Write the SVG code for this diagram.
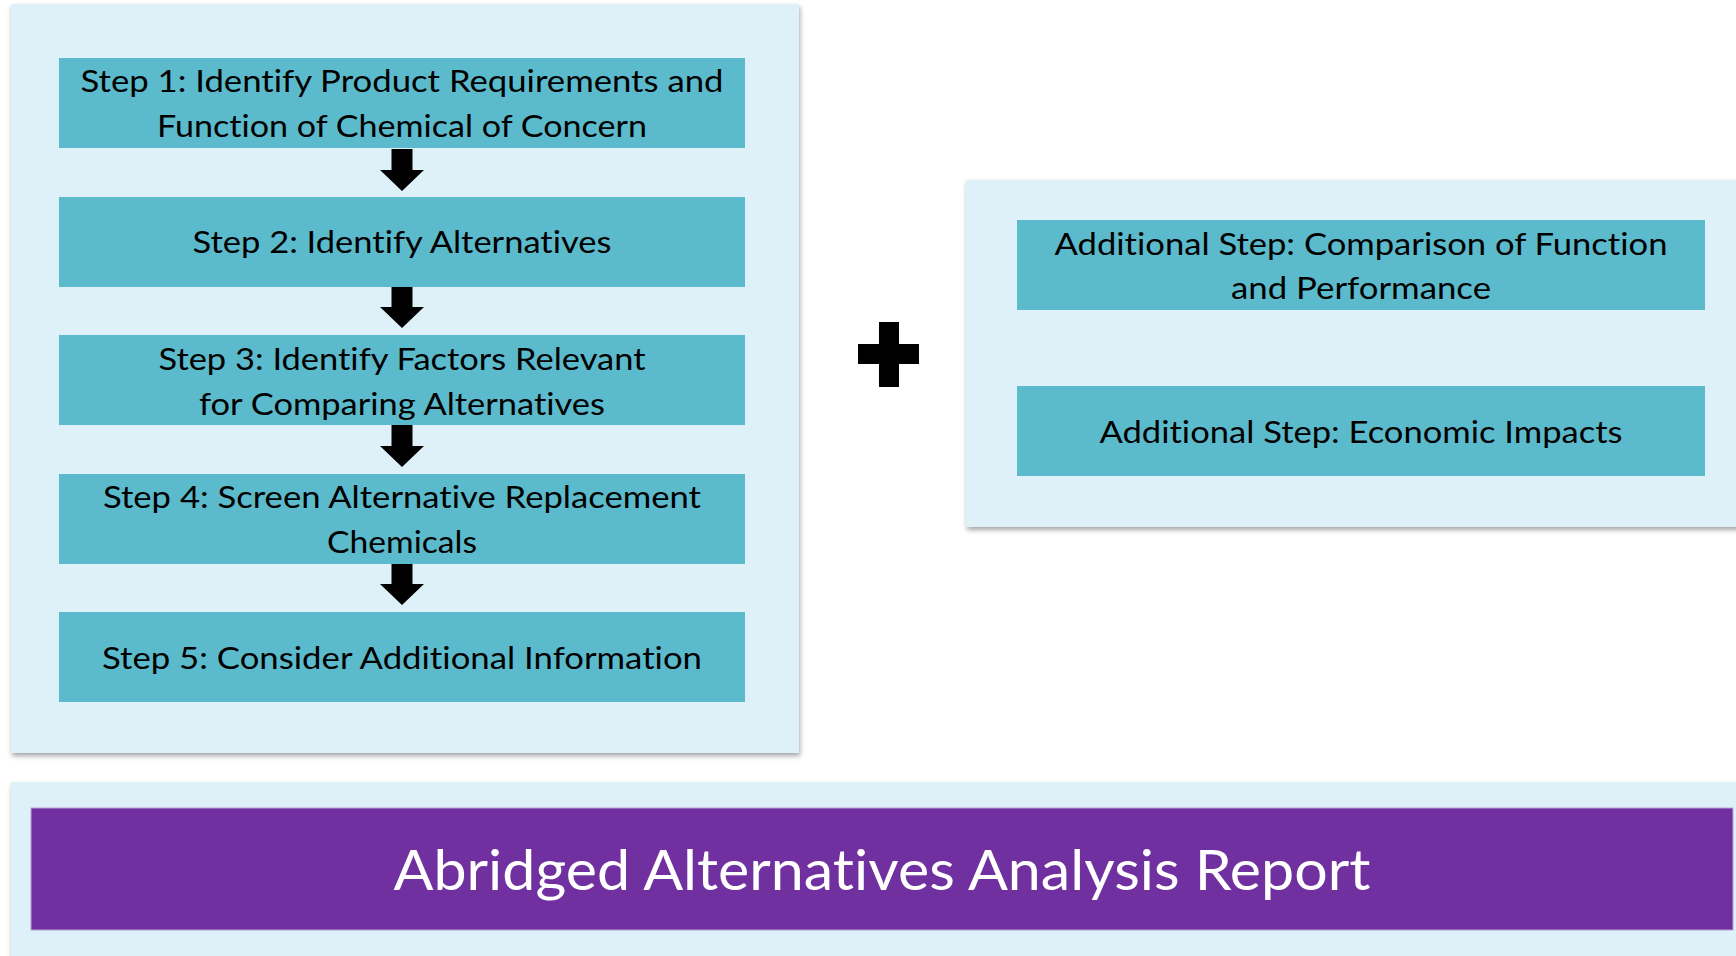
<svg xmlns="http://www.w3.org/2000/svg" width="1736" height="956" viewBox="0 0 1736 956">
<style>
.panel{fill:#DEF1F8;}
.box{fill:#5BBBCC;}
.t{font-family:Lato,"Open Sans","Liberation Sans",sans-serif;font-size:31px;fill:#000;text-anchor:middle;font-variant-ligatures:none;}
.title{font-family:Lato,"Open Sans","Liberation Sans",sans-serif;font-size:57px;fill:#fff;text-anchor:middle;font-variant-ligatures:none;}
.arrow{fill:#000;}
</style>
<defs>
<filter id="sh" x="-5%" y="-5%" width="110%" height="115%">
<feDropShadow dx="1" dy="3" stdDeviation="2.5" flood-color="#000" flood-opacity="0.35"/>
</filter>
</defs>
<rect width="1736" height="956" fill="#fff"/>
<g id="panel-left"><rect class="panel" x="11" y="4" width="788" height="749" filter="url(#sh)"/></g>
<g id="panel-right"><rect class="panel" x="966" y="180" width="790" height="347" filter="url(#sh)"/></g>
<g id="panel-bottom"><rect class="panel" x="11" y="782" width="1745" height="190" filter="url(#sh)"/></g>

<g id="step1"><rect class="box" x="59" y="58" width="686" height="90"/>
<text class="t" x="402" y="92" textLength="643" lengthAdjust="spacingAndGlyphs">Step 1: Identify Product Requirements and</text>
<text class="t" x="402" y="137" textLength="490" lengthAdjust="spacingAndGlyphs">Function of Chemical of Concern</text></g>
<g id="step2"><rect class="box" x="59" y="197" width="686" height="90"/>
<text class="t" x="402" y="253" textLength="419" lengthAdjust="spacingAndGlyphs">Step 2: Identify Alternatives</text></g>
<g id="step3"><rect class="box" x="59" y="335" width="686" height="90"/>
<text class="t" x="402" y="370" textLength="487" lengthAdjust="spacingAndGlyphs">Step 3: Identify Factors Relevant</text>
<text class="t" x="402" y="415" textLength="406" lengthAdjust="spacingAndGlyphs">for Comparing Alternatives</text></g>
<g id="step4"><rect class="box" x="59" y="474" width="686" height="90"/>
<text class="t" x="402" y="508" textLength="598" lengthAdjust="spacingAndGlyphs">Step 4: Screen Alternative Replacement</text>
<text class="t" x="402" y="553" textLength="150" lengthAdjust="spacingAndGlyphs">Chemicals</text></g>
<g id="step5"><rect class="box" x="59" y="612" width="686" height="90"/>
<text class="t" x="402" y="669" textLength="600" lengthAdjust="spacingAndGlyphs">Step 5: Consider Additional Information</text></g>

<g id="add-function"><rect class="box" x="1017" y="220" width="688" height="90"/>
<text class="t" x="1361" y="255" textLength="613" lengthAdjust="spacingAndGlyphs">Additional Step: Comparison of Function</text>
<text class="t" x="1361" y="299" textLength="260" lengthAdjust="spacingAndGlyphs">and Performance</text></g>
<g id="add-economic"><rect class="box" x="1017" y="386" width="688" height="90"/>
<text class="t" x="1361" y="443" textLength="523" lengthAdjust="spacingAndGlyphs">Additional Step: Economic Impacts</text></g>

<g id="plus"><path class="arrow" d="M879 322H899V344H919V364H899V387H879V364H858V344H879Z"/></g>

<g id="report"><rect x="31" y="808" width="1702" height="122" fill="#7030A0" stroke="#B9A3D6" stroke-width="1"/>
<text class="title" x="882" y="890" textLength="977" lengthAdjust="spacingAndGlyphs">Abridged Alternatives Analysis Report</text></g>

<g id="connectors">
<polygon class="arrow" points="391.5,149 412.5,149 412.5,170 424,170 402,191 380,170 391.5,170"/>
<polygon class="arrow" points="391.5,287 412.5,287 412.5,307 424,307 402,328 380,307 391.5,307"/>
<polygon class="arrow" points="391.5,425 412.5,425 412.5,446 424,446 402,467 380,446 391.5,446"/>
<polygon class="arrow" points="391.5,564 412.5,564 412.5,584 424,584 402,605 380,584 391.5,584"/>
</g>
</svg>
